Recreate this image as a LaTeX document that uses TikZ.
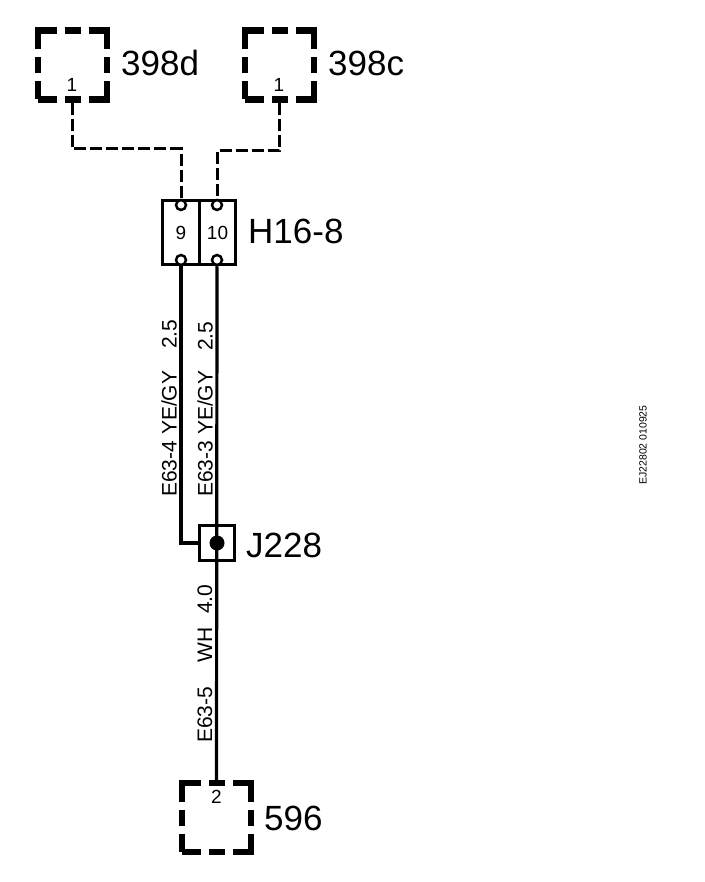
\documentclass[tikz,border=0pt]{standalone}
\usepackage{fontspec}
\setmainfont{Liberation Sans}
\usepackage{tikz}

\newcommand{\bigfont}{\fontsize{35}{40}\selectfont}
\newcommand{\wirefont}{\fontsize{21}{24}\selectfont}
\newcommand{\pinfont}{\fontsize{19}{22}\selectfont}

\begin{document}
\begin{tikzpicture}[x = 1pt, y = -1pt,
        dashbox/.style = {draw, line width = 6.5pt, inner sep = 0pt, minimum size = 69pt,
            dash pattern = on 37pt off 8pt on 16pt off 8pt, dash phase = 18.5pt},
        cell/.style = {draw, line width = 3pt, inner sep = 0pt, minimum width = 36.5pt, minimum height = 64pt, font = \pinfont},
        pin/.style = {circle, draw, fill = white, line width = 2.5pt, inner sep = 0pt, minimum size = 10pt},
        wire/.style = {line width = 3.2pt},
        dashwire/.style = {line width = 3pt, dash pattern = on 12pt off 4pt},
        biglabel/.style = {anchor = west, inner sep = 0pt, font = \bigfont},
        pinlabel/.style = {inner sep = 0pt, font = \pinfont},
        wirelabel/.style = {rotate = 90, anchor = west, inner sep = 0pt, font = \wirefont}]
            \useasboundingbox (0,0) rectangle (704,882);
            \node [dashbox] (box398d) at (72.5,65) {};          %Stecker oben
            \node [dashbox] (box398c) at (279.5,65) {};
            \node [dashbox] (box596) at (216.5,817.5) {};       %Stecker unten
            \node [pinlabel] (num398d) at (72,85) {1};
            \node [pinlabel] (num398c) at (279,85) {1};
            \node [pinlabel] (num596) at (216.5,797) {2};
            \node [biglabel] (name398d) at (121,63) {398d};
            \node [biglabel] (name398c) at (328,63) {398c};
            \node [biglabel] (name596) at (264,818) {596};
            \node [cell] (cell9) at (181,233) {9};              %Kammern
            \node [cell] (cell10) at (217.5,233) {10};
            \node [biglabel] (nameH) at (248,231) {H16-8};
            \node [pin] (pin9t) at (181,205) {};
            \node [pin] (pin10t) at (217,205) {};
            \node [pin] (pin9b) at (181,260) {};
            \node [pin] (pin10b) at (217,260) {};
            \node [draw, line width = 3.6pt, inner sep = 0pt, minimum size = 35pt] (J228) at (217,543) {};
            \node [circle, fill, inner sep = 0pt, minimum size = 15pt] (dot) at (217,543) {};
            \node [biglabel] (nameJ) at (246,545) {J228};
            \coordinate (bendd) at (181,149);
            \coordinate (bendc) at (217,151);
            \draw [dashwire] (box398d.south) |- (bendd) -- (pin9t.north);   %gestrichelt
            \draw [dashwire] (box398c.south) |- (bendc) -- (pin10t.north);
            \draw [wire] (pin9b.south) |- (J228.west);
            \draw [wire] (pin10b.south) -- (box596.north);
            \node [wirelabel] (lab4) at (169,497) {E63-4 YE/GY\hspace{22pt}2.5};
            \node [wirelabel] (lab3) at (205,497) {E63-3 YE/GY\hspace{20pt}2.5};
            \node [wirelabel] (lab5) at (205,743) {E63-5\hspace{24pt}WH\hspace{14pt}4.0};
            \node [rotate = 90, inner sep = 0pt, font = \fontsize{10.5}{12}\selectfont] (code) at (643,445) {EJ22802 010925};
\end{tikzpicture}
\end{document}
